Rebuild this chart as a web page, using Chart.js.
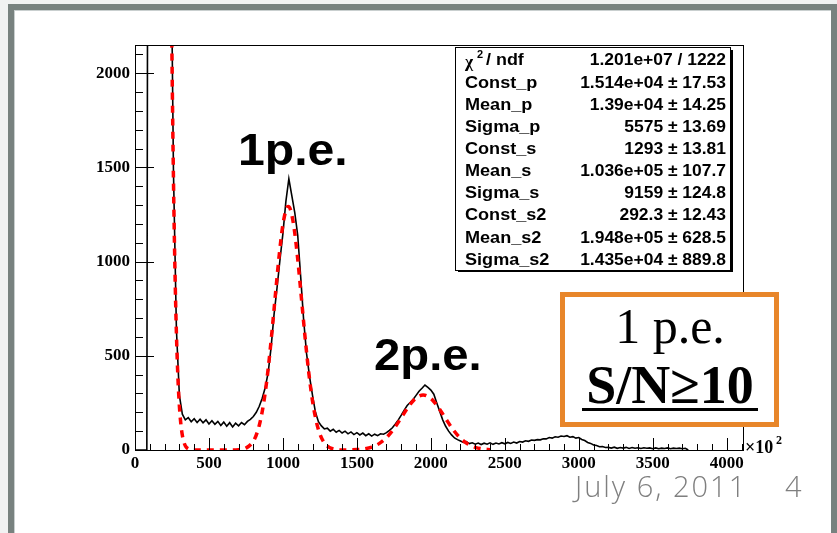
<!DOCTYPE html>
<html>
<head>
<meta charset="UTF-8">
<title>1p.e. spectrum</title>
<script src="https://cdn.jsdelivr.net/npm/chart.js@4"></script>
<style>
  html, body { margin: 0; padding: 0; background: #fff; }
  #wrap { width: 837px; height: 533px; }
</style>
</head>
<body>
<div id="wrap"><canvas id="c" width="837" height="533"></canvas></div>
<script>
// histogram: bin step 20 starting at 0 (values above 2150 are off-scale)
const binWidth = 20;
const counts = [
  0, 0, 0, 0, 0, 9999, 9999, 9999, 9999, 9999, 9999, 9999, 3000, 1480, 640, 290,
  190, 160, 172, 150, 166, 146, 163, 144, 160, 138, 155, 136, 152, 130, 148, 126,
  145, 122, 142, 128, 146, 134, 152, 163, 178, 200, 232, 275, 330, 410, 545, 720,
  860, 1010, 1150, 1320, 1440, 1350, 1260, 1140, 920, 690, 510, 390, 290, 200, 150, 128,
  112, 116, 100, 110, 94, 104, 90, 100, 86, 96, 82, 92, 80, 90, 76, 86,
  74, 84, 76, 86, 84, 92, 104, 118, 138, 160, 185, 212, 236, 252, 268, 290,
  312, 328, 345, 332, 318, 296, 250, 205, 160, 126, 100, 80, 64, 55, 48, 40,
  44, 34, 38, 31, 37, 29, 36, 31, 38, 30, 37, 32, 39, 33, 40, 35,
  42, 37, 45, 42, 49, 46, 53, 51, 55, 54, 60, 59, 66, 63, 70, 68,
  74, 72, 76, 68, 71, 63, 66, 56, 50, 40, 35, 27, 24, 17, 18, 13,
  14, 10, 15, 9, 13, 10, 14, 8, 13, 9, 12, 8, 12, 9, 11, 7,
  11, 7, 10, 8, 11, 7, 10, 8, 10, 7, 9, 0
];

// fit curve
const fitX = [240, 250, 260, 270, 280, 290, 300, 310, 320, 330, 340, 350, 360, 380, 400, 500, 600, 700, 750, 800,
  825, 850, 875, 900, 925, 950, 975, 1000, 1025, 1036, 1050, 1075, 1100, 1125, 1150, 1175, 1200, 1225, 1250, 1275,
  1300, 1350, 1400, 1450, 1500, 1550, 1600, 1650, 1700, 1750, 1800, 1850, 1900, 1948, 2000, 2050, 2100, 2150, 2200,
  2250, 2300, 2350, 2400];
const fitY = [2933, 2086, 1437, 957, 618, 386, 234, 137, 78, 43, 23, 12, 6, 1, 0, 0, 0, 1.5, 10, 47,
  91, 164, 276, 430, 621, 832, 1036, 1197, 1284, 1293, 1278, 1181, 1013, 806, 596, 409, 260, 154, 84, 43,
  20, 3.6, 0.4, 0.7, 2.2, 6.2, 15.5, 33.8, 65.7, 112.8, 171.7, 231.6, 276.4, 292.3, 273.7, 227, 166.8, 108.5, 62.5,
  31.9, 14.4, 5.8, 2.0];

// axis ticks
const xMajor = [0, 500, 1000, 1500, 2000, 2500, 3000, 3500, 4000];
const yMajor = [0, 500, 1000, 1500, 2000];
const xMax = 4110, yMax = 2150;

// stats box text
const statNames = ['χ', 'Const_p', 'Mean_p', 'Sigma_p', 'Const_s', 'Mean_s', 'Sigma_s', 'Const_s2', 'Mean_s2', 'Sigma_s2'];
const statValues = ['1.201e+07 / 1222', '1.514e+04 ± 17.53', '1.39e+04 ± 14.25', '5575 ± 13.69', '1293 ± 13.81',
  '1.036e+05 ± 107.7', '9159 ± 124.8', '292.3 ± 12.43', '1.948e+05 ± 628.5', '1.435e+04 ± 889.8'];

const histPts = counts.map((v, i) => ({ x: i * binWidth, y: v }));
const fitPts = fitX.map((x, i) => ({ x: x, y: fitY[i] }));

// text squeezed/stretched horizontally like the scanned slide
function wideText(ctx, txt, x, y, sx) {
  ctx.save();
  ctx.translate(x, y);
  ctx.scale(sx, 1);
  ctx.fillText(txt, 0, 0);
  ctx.restore();
}

// slide background and gray frame
const slideBg = {
  id: 'slideBg',
  beforeDraw(chart) {
    const ctx = chart.ctx;
    ctx.save();
    ctx.fillStyle = '#ffffff';
    ctx.fillRect(0, 0, 837, 533);
    ctx.fillStyle = '#f1f2f2';
    ctx.fillRect(0, 0, 837, 4);
    ctx.fillRect(0, 0, 8, 533);
    ctx.fillStyle = '#78827f';
    ctx.fillRect(8, 4, 829, 6);
    ctx.fillRect(8, 4, 6, 529);
    ctx.fillRect(831, 4, 6, 529);
    ctx.fillStyle = '#c9cfcf';
    ctx.fillRect(14, 10, 817, 1);
    ctx.fillRect(14, 10, 1, 523);
    ctx.restore();
  }
};

// ROOT-style frame with ticks inside, stats box and annotations
const overlay = {
  id: 'overlay',
  afterDatasetsDraw(chart) {
    const ctx = chart.ctx, a = chart.chartArea;
    const xs = chart.scales.x, ys = chart.scales.y;
    ctx.save();
    ctx.strokeStyle = '#000';
    ctx.lineWidth = 1;
    ctx.strokeRect(Math.round(a.left) + 0.5, Math.round(a.top) + 0.5, Math.round(a.right - a.left), Math.round(a.bottom - a.top));
    ctx.beginPath();
    for (let v = 0; v <= xMax; v += 100) {
      const px = Math.round(xs.getPixelForValue(v)) + 0.5;
      const len = xMajor.includes(v) ? 12 : 6;
      ctx.moveTo(px, a.bottom);
      ctx.lineTo(px, a.bottom - len);
    }
    for (let v = 0; v <= yMax; v += 100) {
      const py = Math.round(ys.getPixelForValue(v)) + 0.5;
      const len = yMajor.includes(v) ? 19 : 8;
      ctx.moveTo(a.left, py);
      ctx.lineTo(a.left + len, py);
    }
    ctx.stroke();

    // x10^2 axis label
    ctx.fillStyle = '#000';
    ctx.font = 'bold 18px "Liberation Serif"';
    ctx.textBaseline = 'alphabetic';
    ctx.textAlign = 'left';
    ctx.fillText('×10', 745, 453);
    ctx.font = 'bold 12px "Liberation Serif"';
    ctx.fillText('2', 776, 444);

    // stats box
    ctx.fillStyle = '#000';
    ctx.fillRect(458, 270, 275, 2);
    ctx.fillRect(731, 50, 2, 222);
    ctx.fillStyle = '#fff';
    ctx.fillRect(455, 47, 276, 223);
    ctx.strokeRect(455.5, 47.5, 275, 223);
    ctx.fillStyle = '#000';
    ctx.textBaseline = 'middle';
    statNames.forEach((n, i) => {
      const y = 61 + i * 22.15;
      ctx.textAlign = 'left';
      if (i === 0) {
        ctx.font = 'bold 16px "Liberation Serif"';
        wideText(ctx, 'χ', 465, y + 2, 1.1);
        ctx.font = 'bold 11px "Liberation Sans"';
        ctx.fillText('2', 477, y - 6);
        ctx.font = 'bold 16px "Liberation Sans"';
        wideText(ctx, ' / ndf', 481, y, 1.12);
      } else {
        ctx.font = 'bold 16px "Liberation Sans"';
        wideText(ctx, n, 465, y, 1.13);
      }
      ctx.textAlign = 'right';
      ctx.font = 'bold 16px "Liberation Sans"';
      wideText(ctx, statValues[i], 726, y, 1.09);
    });

    // peak labels
    ctx.textAlign = 'left';
    ctx.textBaseline = 'alphabetic';
    ctx.font = 'bold 45px "Liberation Sans"';
    wideText(ctx, '1p.e.', 238, 165, 1.07);
    wideText(ctx, '2p.e.', 374, 370, 1.05);

    // orange box
    ctx.fillStyle = '#fff';
    ctx.fillRect(562, 294, 215, 131);
    ctx.strokeStyle = '#e8862a';
    ctx.lineWidth = 5;
    ctx.strokeRect(562.5, 294.5, 214, 130);
    ctx.fillStyle = '#000';
    ctx.textAlign = 'center';
    ctx.font = '50px "Liberation Serif"';
    ctx.fillText('1 p.e.', 670, 343);
    ctx.font = 'bold 54px "Liberation Serif"';
    ctx.fillText('S/N≥10', 670, 403);
    ctx.fillRect(582, 408, 176, 3);

    // footer
    ctx.fillStyle = '#7f7f7f';
    ctx.textAlign = 'left';
    ctx.font = '300 29px "Open Sans"';
    ctx.letterSpacing = '2px';
    ctx.fillText('July 6, 2011', 575, 497);
    ctx.letterSpacing = '0px';
    ctx.fillText('4', 785, 497);
    ctx.restore();
  }
};

new Chart(document.getElementById('c'), {
  type: 'line',
  data: {
    datasets: [
      {
        label: 'fit',
        data: fitPts,
        borderColor: '#ff0000',
        borderWidth: 3.5,
        borderDash: [7, 6],
        pointRadius: 0,
        cubicInterpolationMode: 'monotone',
        fill: false
      },
      {
        label: 'data',
        data: histPts,
        borderColor: '#000000',
        borderWidth: 1.6,
        pointRadius: 0,
        tension: 0,
        fill: false
      }
    ]
  },
  options: {
    responsive: false,
    animation: false,
    devicePixelRatio: 1,
    layout: { padding: { left: 0, top: 45, right: 94, bottom: 0 } },
    plugins: { legend: { display: false }, tooltip: { enabled: false } },
    scales: {
      x: {
        type: 'linear',
        min: 0,
        max: xMax,
        grid: { display: false, drawTicks: false },
        border: { display: false },
        afterFit: s => { s.height = 83; },
        afterBuildTicks: s => { s.ticks = xMajor.map(v => ({ value: v })); },
        ticks: {
          padding: 3,
          maxRotation: 0,
          color: '#000',
          font: { family: 'Liberation Serif', size: 17, weight: 'bold' },
          callback: v => String(v)
        }
      },
      y: {
        type: 'linear',
        min: 0,
        max: yMax,
        grid: { display: false, drawTicks: false },
        border: { display: false },
        afterFit: s => { s.width = 135; },
        afterBuildTicks: s => { s.ticks = yMajor.map(v => ({ value: v })); },
        ticks: {
          padding: 5,
          color: '#000',
          font: { family: 'Liberation Serif', size: 17, weight: 'bold' },
          callback: v => String(v)
        }
      }
    }
  },
  plugins: [slideBg, overlay]
});
</script>
</body>
</html>
